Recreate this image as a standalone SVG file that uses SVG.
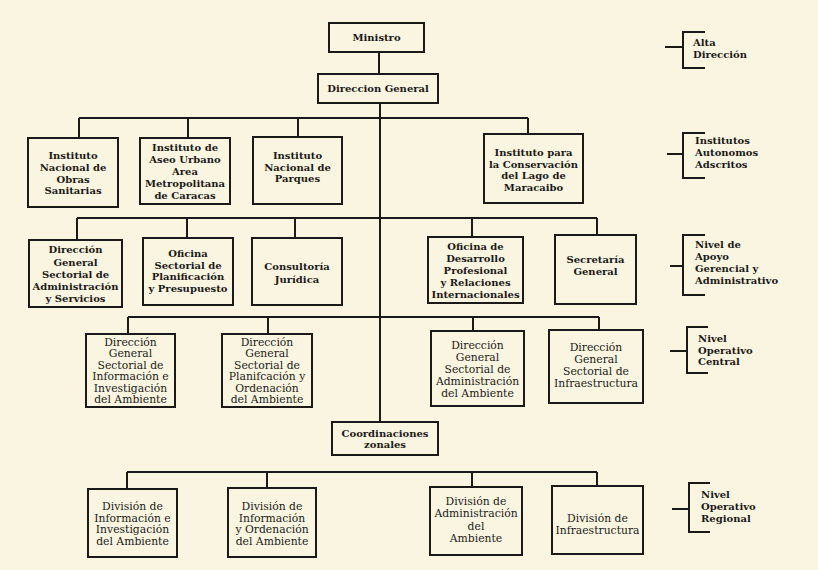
<svg xmlns="http://www.w3.org/2000/svg" width="818" height="570" viewBox="0 0 818 570">
<style>
.bg{fill:#f9f5e0}
.box{fill:none;stroke:#1c1a18;stroke-width:2}
.ln{fill:none;stroke:#1c1a18;stroke-width:2}
.tb{font-family:"DejaVu Serif","Liberation Serif",serif;font-size:10px;font-weight:bold;fill:#1c1a18;text-anchor:middle}
.tn{font-family:"DejaVu Serif","Liberation Serif",serif;font-size:10.8px;fill:#1c1a18;text-anchor:middle}
.lab{font-family:"DejaVu Serif","Liberation Serif",serif;font-size:10px;font-weight:bold;fill:#1c1a18}
</style>
<rect class="bg" x="0" y="0" width="818" height="570"/>

<g id="connectors">
<path class="ln" d="M379 52V74"/>
<path class="ln" d="M380 103V422"/>
<path class="ln" d="M79 118H528M79 118V138M188 118V138M298 118V137M528 118V134"/>
<path class="ln" d="M77 218H597M77 218V240M187 218V238M295 218V238M472 218V237M597 218V235"/>
<path class="ln" d="M128 317H599M128 317V334M268 317V334M473 317V331M599 317V330"/>
<path class="ln" d="M127 472H597M127 472V489M267 472V488M472 472V487M597 472V486"/>
</g>

<g id="ministro">
<rect class="box" x="329" y="23" width="95" height="29"/>
<text class="tb" x="376.5" y="41">Ministro</text>
</g>
<g id="direccion-general">
<rect class="box" x="318" y="74" width="120" height="29"/>
<text class="tb" x="378" y="92">Direccion General</text>
</g>

<g id="inst-obras-sanitarias">
<rect class="box" x="28" y="138" width="90" height="69"/>
<text class="tb" x="73"><tspan x="73" y="159">Instituto</tspan><tspan x="73" y="171">Nacional de</tspan><tspan x="73" y="182.5">Obras</tspan><tspan x="73" y="194">Sanitarias</tspan></text>
</g>
<g id="inst-aseo-urbano">
<rect class="box" x="140" y="138" width="90" height="66"/>
<text class="tb" x="185"><tspan x="185" y="151">Instituto de</tspan><tspan x="185" y="163">Aseo Urbano</tspan><tspan x="185" y="175">Area</tspan><tspan x="185" y="187">Metropolitana</tspan><tspan x="185" y="198.5">de Caracas</tspan></text>
</g>
<g id="inst-parques">
<rect class="box" x="253" y="137" width="89" height="67"/>
<text class="tb" x="297.5"><tspan x="297.5" y="159">Instituto</tspan><tspan x="297.5" y="170.5">Nacional de</tspan><tspan x="297.5" y="182">Parques</tspan></text>
</g>
<g id="inst-lago-maracaibo">
<rect class="box" x="484" y="134" width="99" height="69"/>
<text class="tb" x="533.5"><tspan x="533.5" y="156">Instituto para</tspan><tspan x="533.5" y="167.5">la Conservación</tspan><tspan x="533.5" y="179">del Lago de</tspan><tspan x="533.5" y="190.5">Maracaibo</tspan></text>
</g>

<g id="dg-administracion-servicios">
<rect class="box" x="29" y="240" width="93" height="67"/>
<text class="tb" x="75.5"><tspan x="75.5" y="253">Dirección</tspan><tspan x="75.5" y="265.5">General</tspan><tspan x="75.5" y="277.5">Sectorial de</tspan><tspan x="75.5" y="289.5">Administración</tspan><tspan x="75.5" y="301.5">y Servicios</tspan></text>
</g>
<g id="oficina-planificacion">
<rect class="box" x="143" y="238" width="90" height="67"/>
<text class="tb" x="188"><tspan x="188" y="257">Oficina</tspan><tspan x="188" y="268.5">Sectorial de</tspan><tspan x="188" y="280">Planificación</tspan><tspan x="188" y="292">y Presupuesto</tspan></text>
</g>
<g id="consultoria-juridica">
<rect class="box" x="252" y="238" width="90" height="67"/>
<text class="tb" x="297"><tspan x="297" y="270">Consultoría</tspan><tspan x="297" y="282.5">Jurídica</tspan></text>
</g>
<g id="oficina-desarrollo">
<rect class="box" x="428" y="237" width="95" height="66"/>
<text class="tb" x="475.5"><tspan x="475.5" y="250">Oficina de</tspan><tspan x="475.5" y="262">Desarrollo</tspan><tspan x="475.5" y="273.5">Profesional</tspan><tspan x="475.5" y="286">y Relaciones</tspan><tspan x="475.5" y="298">Internacionales</tspan></text>
</g>
<g id="secretaria-general">
<rect class="box" x="555" y="235" width="81" height="69"/>
<text class="tb" x="595.5"><tspan x="595.5" y="263">Secretaría</tspan><tspan x="595.5" y="275">General</tspan></text>
</g>

<g id="dg-informacion-investigacion">
<rect class="box" x="86" y="334" width="89" height="73"/>
<text class="tn" x="130.5"><tspan x="130.5" y="345.5">Dirección</tspan><tspan x="130.5" y="357">General</tspan><tspan x="130.5" y="368.5">Sectorial de</tspan><tspan x="130.5" y="380">Información e</tspan><tspan x="130.5" y="391.5">Investigación</tspan><tspan x="130.5" y="403">del Ambiente</tspan></text>
</g>
<g id="dg-planificacion-ordenacion">
<rect class="box" x="222" y="334" width="90" height="73"/>
<text class="tn" x="267"><tspan x="267" y="345.5">Dirección</tspan><tspan x="267" y="357">General</tspan><tspan x="267" y="368.5">Sectorial de</tspan><tspan x="267" y="380">Planifcación y</tspan><tspan x="267" y="391.5">Ordenación</tspan><tspan x="267" y="403">del Ambiente</tspan></text>
</g>
<g id="dg-administracion-ambiente">
<rect class="box" x="431" y="331" width="93" height="75"/>
<text class="tn" x="477.5"><tspan x="477.5" y="349">Dirección</tspan><tspan x="477.5" y="360.5">General</tspan><tspan x="477.5" y="372.5">Sectorial de</tspan><tspan x="477.5" y="384.5">Administración</tspan><tspan x="477.5" y="396.5">del Ambiente</tspan></text>
</g>
<g id="dg-infraestructura">
<rect class="box" x="549" y="330" width="94" height="73"/>
<text class="tn" x="596"><tspan x="596" y="351">Dirección</tspan><tspan x="596" y="363">General</tspan><tspan x="596" y="375">Sectorial de</tspan><tspan x="596" y="387">Infraestructura</tspan></text>
</g>

<g id="coordinaciones-zonales">
<rect class="box" x="332" y="422" width="106" height="33"/>
<text class="tb" x="385"><tspan x="385" y="436.5">Coordinaciones</tspan><tspan x="385" y="447.5">zonales</tspan></text>
</g>

<g id="div-informacion-investigacion">
<rect class="box" x="88" y="489" width="89" height="68"/>
<text class="tn" x="132.5"><tspan x="132.5" y="510">División de</tspan><tspan x="132.5" y="521.5">Información e</tspan><tspan x="132.5" y="533">Investigación</tspan><tspan x="132.5" y="544.5">del Ambiente</tspan></text>
</g>
<g id="div-informacion-ordenacion">
<rect class="box" x="228" y="488" width="88" height="69"/>
<text class="tn" x="272"><tspan x="272" y="510">División de</tspan><tspan x="272" y="521.5">Información</tspan><tspan x="272" y="533">y Ordenación</tspan><tspan x="272" y="544.5">del Ambiente</tspan></text>
</g>
<g id="div-administracion">
<rect class="box" x="430" y="487" width="92" height="68"/>
<text class="tn" x="476"><tspan x="476" y="504.5">División de</tspan><tspan x="476" y="517">Administración</tspan><tspan x="476" y="529.5">del</tspan><tspan x="476" y="541.5">Ambiente</tspan></text>
</g>
<g id="div-infraestructura">
<rect class="box" x="552" y="486" width="91" height="68"/>
<text class="tn" x="597.5"><tspan x="597.5" y="522">División de</tspan><tspan x="597.5" y="534">Infraestructura</tspan></text>
</g>

<g id="nivel-alta-direccion">
<path class="ln" d="M705 32H683V68H705M665 47H683"/>
<text class="lab"><tspan x="693" y="46">Alta</tspan><tspan x="693" y="58">Dirección</tspan></text>
</g>
<g id="nivel-institutos">
<path class="ln" d="M705 133H683V178H705M667 154H683"/>
<text class="lab"><tspan x="695" y="144">Institutos</tspan><tspan x="695" y="156">Autonomos</tspan><tspan x="695" y="168">Adscritos</tspan></text>
</g>
<g id="nivel-apoyo">
<path class="ln" d="M705 235H683V295H705M670 266H683"/>
<text class="lab"><tspan x="695" y="248">Nivel de</tspan><tspan x="695" y="260">Apoyo</tspan><tspan x="695" y="272">Gerencial y</tspan><tspan x="695" y="284">Administrativo</tspan></text>
</g>
<g id="nivel-operativo-central">
<path class="ln" d="M708 327H687V373H708M670 351H687"/>
<text class="lab"><tspan x="698" y="342">Nivel</tspan><tspan x="698" y="354">Operativo</tspan><tspan x="698" y="365">Central</tspan></text>
</g>
<g id="nivel-operativo-regional">
<path class="ln" d="M710 483H689V532H710M672 509H689"/>
<text class="lab"><tspan x="701" y="498">Nivel</tspan><tspan x="701" y="510">Operativo</tspan><tspan x="701" y="522">Regional</tspan></text>
</g>
</svg>
